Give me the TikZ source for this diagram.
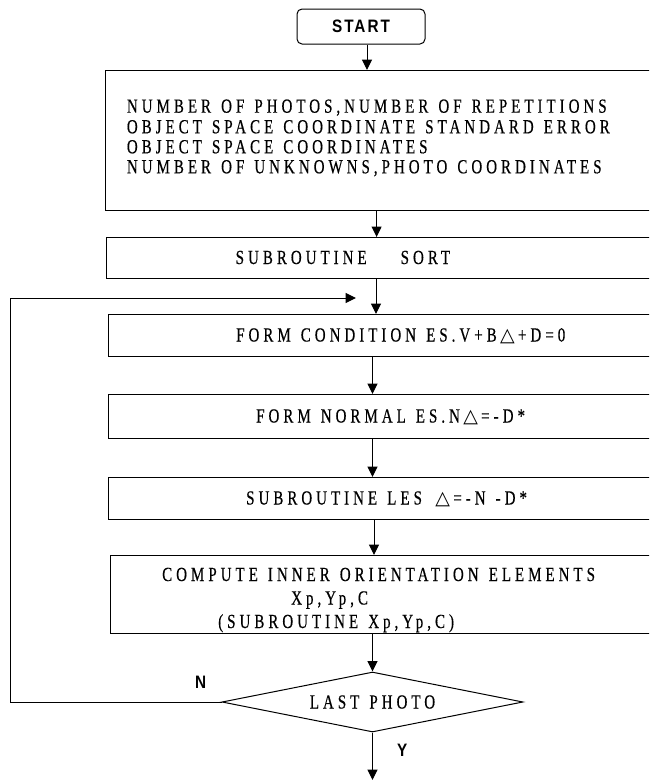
\documentclass[tikz,border=0pt]{standalone}
\usepackage{fontspec}
\usetikzlibrary{shapes.geometric,arrows.meta}
\newfontfamily\reffont[FakeStretch=0.75,LetterSpace=20,WordSpace=1.3,FakeBold=0.4]{Liberation Serif}
\newfontfamily\labfont[FakeStretch=0.85,LetterSpace=11]{Liberation Sans}
\newfontfamily\symfont{DejaVu Sans}
\newcommand{\tri}{\,{\symfont\fontsize{19}{19}\selectfont △}\,}
\begin{document}
\begin{tikzpicture}[x=1pt,y=-1pt,
  box/.style={draw=black, line width=1pt, rectangle, inner sep=0pt, anchor=north west},
  txt/.style={inner sep=0pt, anchor=base west, font=\reffont\fontsize{20}{20}\selectfont},
  lab/.style={inner sep=0pt, anchor=base west, font=\labfont\bfseries\fontsize{18}{18}\selectfont},
  arr/.style={line width=1pt, -{Triangle[length=10.5pt,width=10pt]}},
  line/.style={line width=1pt}
]
\useasboundingbox (0,0) rectangle (649,780);
\begin{scope}
\clip (0,0) rectangle (649,780);
% boxes
\node[box, anchor=center, rounded corners=5pt, minimum width=128pt, minimum height=35pt,
      font=\labfont\bfseries\fontsize{18}{18}\selectfont] (start) at (361,26.5) {START};
\node[box, minimum width=560pt, minimum height=140pt] (b1) at (105,70) {};
\node[box, minimum width=559pt, minimum height=41pt] (b2) at (106,237) {};
\node[box, minimum width=557pt, minimum height=42pt] (b3) at (108,314) {};
\node[box, minimum width=557pt, minimum height=44pt] (b4) at (108,394) {};
\node[box, minimum width=557pt, minimum height=42pt] (b5) at (108,477) {};
\node[box, minimum width=555pt, minimum height=78pt] (b6) at (110,555) {};
\node[draw=black, line width=1pt, diamond, aspect=5, inner sep=0pt,
      minimum width=301pt, minimum height=60pt,
      font=\reffont\fontsize{20}{20}\selectfont] (dia) at (372.5,702) {LAST PHOTO};
% texts
\node[txt] (t11) at (126.7,112.7) {NUMBER OF PHOTOS,NUMBER OF REPETITIONS};
\node[txt] (t12) at (126.7,133.3) {OBJECT SPACE COORDINATE STANDARD ERROR};
\node[txt] (t13) at (126.7,153.3) {OBJECT SPACE COORDINATES};
\node[txt] (t14) at (126.7,173.3) {NUMBER OF UNKNOWNS,PHOTO COORDINATES};
\node[txt] (t2) at (235.5,264) {SUBROUTINE\hspace{34pt}SORT};
\node[txt] (t3) at (236,341.5) {FORM CONDITION ES.V+B\tri+D=0};
\node[txt] (t4) at (256,422.5) {FORM NORMAL ES.N\tri=-D*};
\node[txt] (t5) at (246,504.5) {SUBROUTINE LES \tri=-N -D*};
\node[txt] (t61) at (162,581) {COMPUTE INNER ORIENTATION ELEMENTS};
\node[txt] (t62) at (291,604.5) {Xp,Yp,C};
\node[txt] (t63) at (218,628) {(SUBROUTINE Xp,Yp,C)};
\node[lab] (ln) at (195,688) {N};
\node[lab] (ly) at (397,756.7) {Y};
% connector x positions
\coordinate (a1) at (367,0);
\coordinate (a2) at (376.6,0);
\coordinate (a3) at (376,0);
\coordinate (a4) at (372.5,0);
\coordinate (a6) at (374,0);
\coordinate (lp) at (10,298);
\coordinate (lt) at (356,298);
\coordinate (endp) at (372.5,780);
% connectors
\draw[arr] (start.south -| a1) -- (b1.north -| a1);
\draw[arr] (b1.south -| a2) -- (b2.north -| a2);
\draw[arr] (b2.south -| a3) -- (b3.north -| a3);
\draw[arr] (b3.south -| a4) -- (b4.north -| a4);
\draw[arr] (b4.south -| a4) -- (b5.north -| a4);
\draw[arr] (b5.south -| a6) -- (b6.north -| a6);
\draw[arr] (b6.south -| dia.north) -- (dia.north);
\draw[arr] (dia.south) -- (endp);
\draw[arr] (dia.west) -| (lp) -- (lt);
\end{scope}
\end{tikzpicture}
\end{document}
